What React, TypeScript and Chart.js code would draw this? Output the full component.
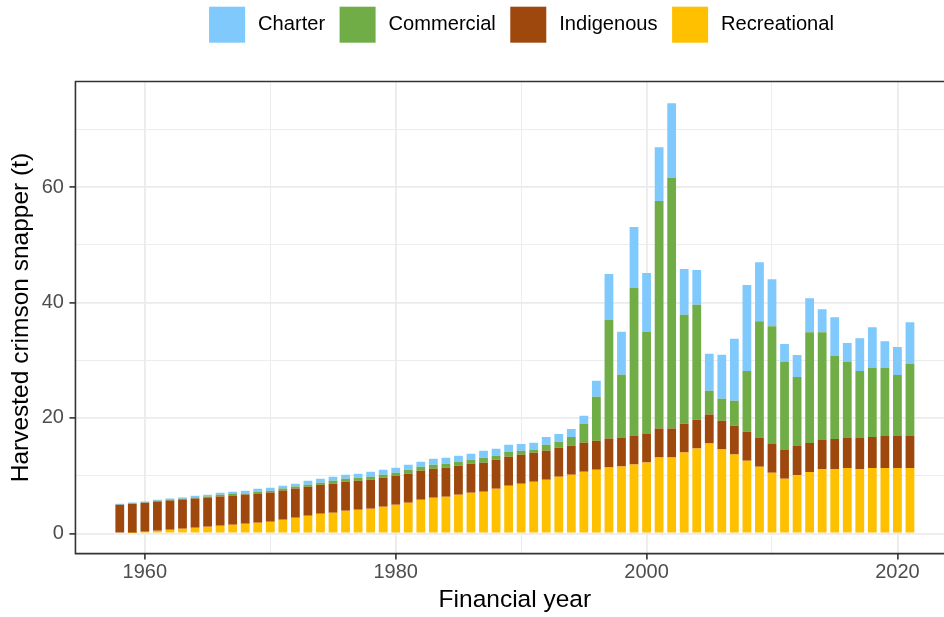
import React, { useEffect, useRef } from "react";
import { Chart, registerables } from "chart.js";

Chart.register(...registerables);

const years = [
  1958, 1959, 1960, 1961, 1962, 1963, 1964, 1965, 1966, 1967, 1968, 1969,
  1970, 1971, 1972, 1973, 1974, 1975, 1976, 1977, 1978, 1979, 1980, 1981,
  1982, 1983, 1984, 1985, 1986, 1987, 1988, 1989, 1990, 1991, 1992, 1993,
  1994, 1995, 1996, 1997, 1998, 1999, 2000, 2001, 2002, 2003, 2004, 2005,
  2006, 2007, 2008, 2009, 2010, 2011, 2012, 2013, 2014, 2015, 2016, 2017,
  2018, 2019, 2020, 2021,
];

const recreational = [
  0, 0.05, 0.29, 0.46, 0.63, 0.81, 0.98, 1.15, 1.33, 1.5, 1.67, 1.85,
  2.02, 2.36, 2.71, 3.06, 3.4, 3.58, 3.92, 4.09, 4.27, 4.61, 4.96, 5.31,
  5.82, 6.17, 6.34, 6.69, 7.04, 7.21, 7.73, 8.25, 8.59, 8.94, 9.28, 9.8,
  10.15, 10.7, 11.05, 11.41, 11.59, 11.93, 12.28, 13.14, 13.14, 14.01, 14.7, 15.56,
  14.52, 13.66, 12.6, 11.53, 10.49, 9.45, 10.14, 10.66, 11.18, 11.18, 11.35, 11.18,
  11.35, 11.35, 11.35, 11.35,
];

const indigenous = [
  4.96, 5.1, 5.02, 5.08, 5.08, 5.07, 5.08, 5.08, 5.07, 5.07, 5.08, 5.07,
  5.07, 5.08, 5.08, 5.01, 5.02, 5.01, 5.02, 5.02, 5.01, 5.02, 5.02, 5.01,
  5.02, 5.02, 5.02, 5.02, 5.01, 5.02, 5.02, 5.01, 5.02, 5.02, 5.02, 5.02,
  5.02, 5.02, 5.02, 5.02, 5.01, 5.02, 5.01, 5.02, 5.02, 5.01, 5.01, 5.02,
  5.02, 5.01, 5.02, 5.01, 5.01, 5.02, 5.02, 5.02, 5.02, 5.19, 5.19, 5.36,
  5.36, 5.54, 5.54, 5.54,
];

const commercial = [
  0, 0.05, 0.05, 0.11, 0.17, 0.12, 0.17, 0.17, 0.29, 0.35, 0.17, 0.29,
  0.29, 0.35, 0.34, 0.35, 0.35, 0.52, 0.52, 0.52, 0.52, 0.52, 0.52, 0.69,
  0.69, 0.69, 0.69, 0.69, 0.7, 0.86, 0.69, 0.87, 0.69, 0.52, 1.04, 1.04,
  1.55, 3.3, 7.62, 20.57, 10.89, 25.59, 17.64, 39.42, 43.4, 18.85, 19.89, 4.15,
  3.8, 4.33, 10.54, 20.23, 20.41, 15.21, 11.93, 19.19, 18.67, 14.35, 13.14, 11.59,
  11.94, 11.76, 10.55, 12.45,
];

const charter = [
  0.17, 0.15, 0.15, 0.17, 0.18, 0.23, 0.29, 0.29, 0.35, 0.29, 0.46, 0.52,
  0.52, 0.46, 0.46, 0.69, 0.69, 0.69, 0.69, 0.69, 0.87, 0.86, 0.86, 0.87,
  0.87, 1.04, 1.04, 1.04, 1.04, 1.21, 1.21, 1.21, 1.21, 1.21, 1.38, 1.38,
  1.39, 1.38, 2.77, 7.96, 7.44, 10.54, 10.2, 9.34, 12.96, 7.95, 6.05, 6.39,
  7.61, 10.72, 14.87, 10.2, 8.12, 3.12, 3.8, 5.88, 3.98, 6.74, 3.29, 5.7,
  7.08, 4.66, 4.84, 7.26,
];

// major ticks carry labels, minor ticks only draw faint grid lines
const xMajorTicks = [1960, 1980, 2000, 2020];
const xMinorTicks = [1970, 1990, 2010];
const yMajorTicks = [0, 20, 40, 60];
const yMinorTicks = [10, 30, 50, 70];

const seriesNames = ["Recreational", "Indigenous", "Commercial", "Charter"];
const legendOrder = ["Charter", "Commercial", "Indigenous", "Recreational"];
const colors: Record<string, string> = {
  Charter: "#7FC9FD",
  Commercial: "#70AD47",
  Indigenous: "#9E480E",
  Recreational: "#FFC000",
};

const xTitle = "Financial year";
const yTitle = "Harvested crimson snapper (t)";

const FONT = '"Liberation Sans", Arial, Helvetica, sans-serif';
const TICK_SIZE = 20;
const LEGEND_SIZE = 20.1;
const TITLE_SIZE = 24.5;

const legendPlugin = {
  id: "topLegend",
  afterDraw(chart: any) {
    const ctx = chart.ctx;
    ctx.save();
    ctx.font = `${LEGEND_SIZE}px ${FONT}`;
    const box = 36;
    const gapText = 13;
    const gapItem = 14.5;
    const items = legendOrder.map((n) => ({ n, w: ctx.measureText(n).width }));
    const total =
      items.reduce((s, it) => s + box + gapText + it.w, 0) +
      gapItem * (items.length - 1);
    let x = 521.5 - total / 2;
    for (const it of items) {
      ctx.fillStyle = colors[it.n];
      ctx.fillRect(x, 6.7, box, box);
      x += box + gapText;
      ctx.fillStyle = "#000000";
      ctx.textAlign = "left";
      ctx.textBaseline = "middle";
      ctx.fillText(it.n, x, 24.8);
      x += it.w + gapItem;
    }
    ctx.restore();
  },
};

const borderPlugin = {
  id: "panelBorder",
  afterDatasetsDraw(chart: any) {
    const { ctx, chartArea } = chart;
    const { left, right, top, bottom } = chartArea;
    ctx.save();
    ctx.strokeStyle = "#333333";
    ctx.lineWidth = 1.6;
    ctx.beginPath();
    ctx.moveTo(right + 2, top);
    ctx.lineTo(left, top);
    ctx.lineTo(left, bottom);
    ctx.lineTo(right + 2, bottom);
    ctx.stroke();
    ctx.beginPath();
    ctx.moveTo(right, top);
    ctx.lineTo(right, bottom);
    ctx.stroke();
    ctx.restore();
  },
};

export default function App() {
  const ref = useRef<HTMLCanvasElement | null>(null);

  useEffect(() => {
    if (!ref.current) return;
    const seriesData: Record<string, number[]> = {
      Recreational: recreational,
      Indigenous: indigenous,
      Commercial: commercial,
      Charter: charter,
    };
    const datasets = seriesNames.map((name) => ({
      label: name,
      data: years.map((yr, i) => ({ x: yr, y: seriesData[name][i] })),
      backgroundColor: colors[name],
      borderWidth: 0,
      barPercentage: 0.7,
      categoryPercentage: 1.0,
    }));

    const makeTicks = (major: number[], minor: number[]) => (scale: any) => {
      scale.ticks = [...major, ...minor]
        .sort((a, b) => a - b)
        .map((v) => ({ value: v, major: false }));
    };
    const isMajorX = (v: number) => xMajorTicks.includes(v);
    const isMajorY = (v: number) => yMajorTicks.includes(v);

    const gridFor = (isMajor: (v: number) => boolean) => ({
      offset: false,
      color: "#EBEBEB",
      lineWidth: (c: any) => (c.tick && isMajor(c.tick.value) ? 1.8 : 0.9),
      tickColor: (c: any) =>
        c.tick && isMajor(c.tick.value) ? "#333333" : "rgba(0,0,0,0)",
      tickLength: 6,
      tickWidth: 1.6,
    });

    const chart = new Chart(ref.current, {
      type: "bar",
      data: { datasets },
      plugins: [legendPlugin, borderPlugin],
      options: {
        responsive: false,
        devicePixelRatio: 1,
        animation: false,
        layout: { padding: { top: 81.5, left: 6.8, right: 7.7, bottom: 0 } },
        plugins: {
          legend: { display: false },
          tooltip: { enabled: false },
        },
        scales: {
          x: {
            type: "linear",
            stacked: true,
            offset: false,
            min: 1954.465,
            max: 2024.535,
            afterBuildTicks: makeTicks(xMajorTicks, xMinorTicks),
            border: { display: false },
            grid: gridFor(isMajorX),
            ticks: {
              autoSkip: false,
              maxRotation: 0,
              padding: 3,
              color: "#4D4D4D",
              font: { family: FONT, size: TICK_SIZE, lineHeight: 1.0 },
              callback: (v: any) => (isMajorX(Number(v)) ? String(v) : ""),
            },
            title: {
              display: true,
              text: xTitle,
              color: "#000000",
              font: { family: FONT, size: TITLE_SIZE, lineHeight: 1.2 },
              padding: { top: 0, bottom: 2 },
            },
          },
          y: {
            stacked: true,
            min: -3.5,
            max: 78.3,
            afterBuildTicks: makeTicks(yMajorTicks, yMinorTicks),
            border: { display: false },
            grid: gridFor(isMajorY),
            ticks: {
              autoSkip: false,
              padding: 5.5,
              color: "#4D4D4D",
              font: { family: FONT, size: TICK_SIZE, lineHeight: 1.0 },
              callback: (v: any) => (isMajorY(Number(v)) ? String(v) : ""),
            },
            title: {
              display: true,
              text: yTitle,
              color: "#000000",
              font: { family: FONT, size: TITLE_SIZE, lineHeight: 1.2 },
              padding: { top: 0, bottom: 0 },
            },
          },
        },
      } as any,
    });
    return () => chart.destroy();
  }, []);

  return (
    <div
      style={{
        position: "fixed",
        left: 0,
        top: 0,
        width: 944,
        height: 617,
        overflow: "hidden",
        background: "#ffffff",
      }}
    >
      <canvas
        ref={ref}
        width={962}
        height={617}
        style={{ display: "block", width: 962, height: 617 }}
      />
    </div>
  );
}
